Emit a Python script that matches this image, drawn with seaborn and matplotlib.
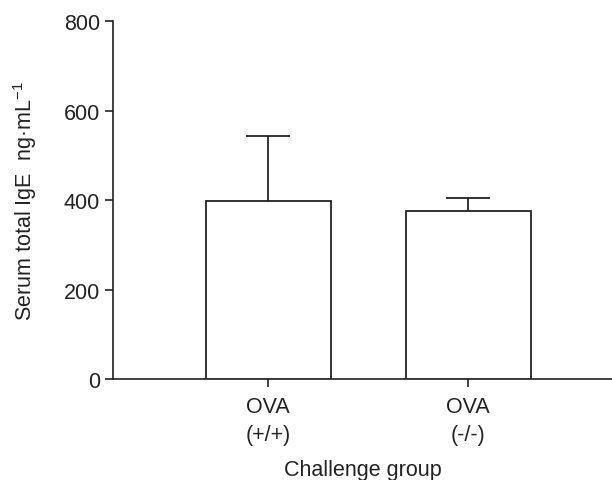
import matplotlib
matplotlib.use("Agg")
import matplotlib.pyplot as plt
import numpy as np
import pandas as pd
import seaborn as sns

GROUPS = ["OVA\n(+/+)", "OVA\n(-/-)"]
MEAN_IGE = [398, 375]
SEM_IGE = [146, 29]
Y_TICKS = [0, 200, 400, 600, 800]

INK = "#222222"


def main():
    sns.set_theme(style="ticks")
    plt.rcParams["font.family"] = ["Liberation Sans", "DejaVu Sans"]
    plt.rcParams["mathtext.fontset"] = "custom"
    plt.rcParams["mathtext.rm"] = "Liberation Sans"
    plt.rcParams["mathtext.it"] = "Liberation Sans:italic"

    df = pd.DataFrame({"group": GROUPS, "ige": MEAN_IGE, "sem": SEM_IGE})

    fig = plt.figure(figsize=(6.12, 4.81), dpi=100)
    ax = fig.add_axes([0.185, 0.21, 0.815, 0.744])

    sns.barplot(data=df, x="group", y="ige", color="white", edgecolor=INK,
                linewidth=1.3, width=0.625, errorbar=None, ax=ax, zorder=3)
    # symmetric bars drawn underneath, so the white bars hide the lower half
    ax.errorbar(np.arange(len(df)), df["ige"], yerr=df["sem"], fmt="none",
                ecolor=INK, elinewidth=1.3, capsize=16, capthick=1.3, zorder=1)

    ax.set_ylim(0, 800)
    ax.set_xlim(-0.775, 1.72)
    ax.set_yticks(Y_TICKS)
    ax.set_ylabel("Serum total IgE  ng·mL$^{-1}$", fontsize=15.5, color=INK, labelpad=18)
    ax.set_xlabel("Challenge group", fontsize=15.5, color=INK, labelpad=10)
    ax.tick_params(axis="both", labelsize=15.5, colors=INK, length=6, width=1.2)
    ax.tick_params(axis="x", pad=6)
    for lbl in ax.get_xticklabels():
        lbl.set_linespacing(1.45)

    sns.despine(ax=ax)
    for side in ["left", "bottom"]:
        ax.spines[side].set_color(INK)
        ax.spines[side].set_linewidth(1.2)

    fig.savefig("out.png", dpi=100)
    plt.close(fig)


if __name__ == "__main__":
    main()
